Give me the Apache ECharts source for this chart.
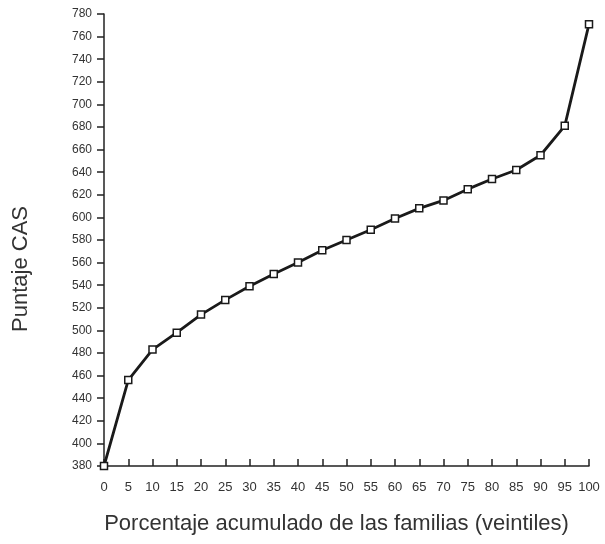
<!DOCTYPE html>
<html>
<head>
<meta charset="utf-8">
<script src="https://cdn.jsdelivr.net/npm/echarts@6/dist/echarts.min.js"></script>
<style>
  html, body { margin: 0; padding: 0; background: #fff; }
  #chart { width: 605px; height: 544px; }
</style>
</head>
<body>
<div id="chart"></div>
<script>
// percentiles (veintiles) on x, CAS score on y
const percentiles = [0, 5, 10, 15, 20, 25, 30, 35, 40, 45, 50, 55, 60, 65, 70, 75, 80, 85, 90, 95, 100]
const casScores = [380, 456, 483, 498, 514, 527, 539, 550, 560, 571, 580, 589, 599, 608, 615, 625, 634, 642, 655, 681, 771]

const xName = 'Porcentaje acumulado de las familias (veintiles)'
const yName = 'Puntaje CAS'

const chart = echarts.init(document.getElementById('chart'))

const axisColor = '#222'
const textColor = '#333'
const font = 'Liberation Sans, Arial, sans-serif'

chart.setOption({
  animation: false,
  grid: {
    left: 104,
    right: 16,
    top: 14,
    bottom: 78
  },
  xAxis: {
    type: 'value',
    min: 0,
    max: 100,
    interval: 5,
    name: xName,
    nameLocation: 'middle',
    nameGap: 47,
    // push the title a bit left of the grid centre, like the scan
    nameTextStyle: { fontSize: 22, color: textColor, fontFamily: font, padding: [0, 20, 0, 0] },
    axisLine: { lineStyle: { color: axisColor, width: 1.5 } },
    axisTick: { inside: true, length: 7, lineStyle: { color: axisColor, width: 1.5 } },
    axisLabel: { fontSize: 13, color: textColor, fontFamily: font, margin: 15 },
    splitLine: { show: false }
  },
  yAxis: {
    type: 'value',
    min: 380,
    max: 780,
    interval: 20,
    name: yName,
    nameLocation: 'middle',
    nameGap: 72,
    nameTextStyle: { fontSize: 22, color: textColor, fontFamily: font, padding: [0, 58, 0, 0] },
    axisLine: { show: true, lineStyle: { color: axisColor, width: 1.5 } },
    axisTick: { show: true, length: 7, lineStyle: { color: axisColor, width: 1.5 } },
    axisLabel: { fontSize: 12, color: textColor, fontFamily: font, margin: 12 },
    splitLine: { show: false }
  },
  series: [
    {
      type: 'line',
      data: percentiles.map((p, i) => [p, casScores[i]]),
      symbol: 'rect',
      symbolSize: 7,
      lineStyle: { color: '#1a1a1a', width: 2.8 },
      itemStyle: { color: '#fff', borderColor: '#1a1a1a', borderWidth: 1.5 }
    }
  ]
})
</script>
</body>
</html>
